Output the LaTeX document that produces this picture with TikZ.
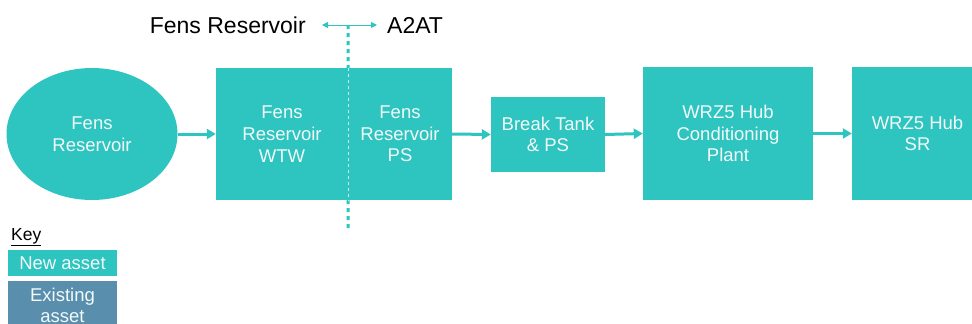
\documentclass[tikz,border=0pt]{standalone}
\usepackage{fontspec}
\setmainfont{Liberation Sans}
\usetikzlibrary{shapes.geometric,arrows.meta}
\definecolor{teal1}{RGB}{46,196,191}
\definecolor{exist}{RGB}{90,142,173}
\definecolor{txtw}{RGB}{242,250,250}
\tikzset{
  boxtxt/.style={font=\fontsize{18.5}{21.7}\selectfont, text=txtw, align=center, inner sep=0pt},
  newbox/.style={boxtxt, fill=teal1, draw=none, rectangle},
  flow/.style={draw=teal1, line width=3pt, -{Triangle[length=9pt,width=10pt]}},
  toplbl/.style={font=\fontsize{23}{27}\selectfont, text=black, inner sep=0pt},
}
\begin{document}
\begin{tikzpicture}[x=1pt,y=-1pt]
\clip (0,0) rectangle (972,324);
\useasboundingbox (0,0) rectangle (972,324);
% main chain
\node[boxtxt, ellipse, fill=teal1, minimum width=171pt, minimum height=132pt] (res) at (92,134) {Fens\\Reservoir};
\node[newbox, minimum width=132pt, minimum height=132pt] (wtw) at (282,134) {Fens\\Reservoir\\WTW};
\node[newbox, minimum width=104pt, minimum height=132pt] (ps) at (400,134) {Fens\\Reservoir\\PS};
\node[newbox, minimum width=114pt, minimum height=75pt] (bt) at (548,134.5) {Break Tank\\\& PS};
\node[newbox, minimum width=170pt, minimum height=133pt] (cp) at (728,133.5) {WRZ5 Hub\\Conditioning\\Plant};
\node[newbox, minimum width=131pt, minimum height=133pt] (sr) at (917.5,133.5) {WRZ5 Hub\\SR};
% arrows
\draw[flow] (res.east) -- (wtw.west);
\draw[flow] (ps.east) -- (bt.west);
\draw[flow] (bt.east) -- (cp.west);
\draw[flow] (cp.east) -- (sr.west);
% boundary
\coordinate (dtop) at (348,25);
\coordinate (dbot) at (348,229);
\draw[teal1, line width=3pt, dash pattern=on 4pt off 4pt] (dtop) -- (wtw.north east);
\draw[teal1, line width=3pt, dash pattern=on 4pt off 4pt] (wtw.south east) -- (dbot);
\draw[white!75!teal1, line width=1pt, dash pattern=on 3pt off 3pt] (wtw.north east) -- (wtw.south east);
% top labels
\node[toplbl, anchor=east] (lf) at (306,25) {Fens Reservoir};
\node[toplbl, anchor=west] (la) at (387,25) {A2AT};
\draw[teal1, line width=1pt, {Triangle[length=6pt,width=6pt]}-{Triangle[length=6pt,width=6pt]}, shorten <=16pt, shorten >=10pt] (lf.east) -- (la.west);
% key
\node[font=\fontsize{17.5}{20}\selectfont, anchor=base west, inner sep=0pt] (key) at (11,240) {\underline{Key}};
\node[newbox, minimum width=109pt, minimum height=26pt] (knew) at (62.5,263) {New asset};
\node[boxtxt, fill=exist, minimum width=109pt, minimum height=60pt, anchor=north, text depth=0pt] (kex) at (62.5,281) {};
\node[boxtxt] (kext) at (62.5,305.5) {Existing\\asset};
\end{tikzpicture}
\end{document}
